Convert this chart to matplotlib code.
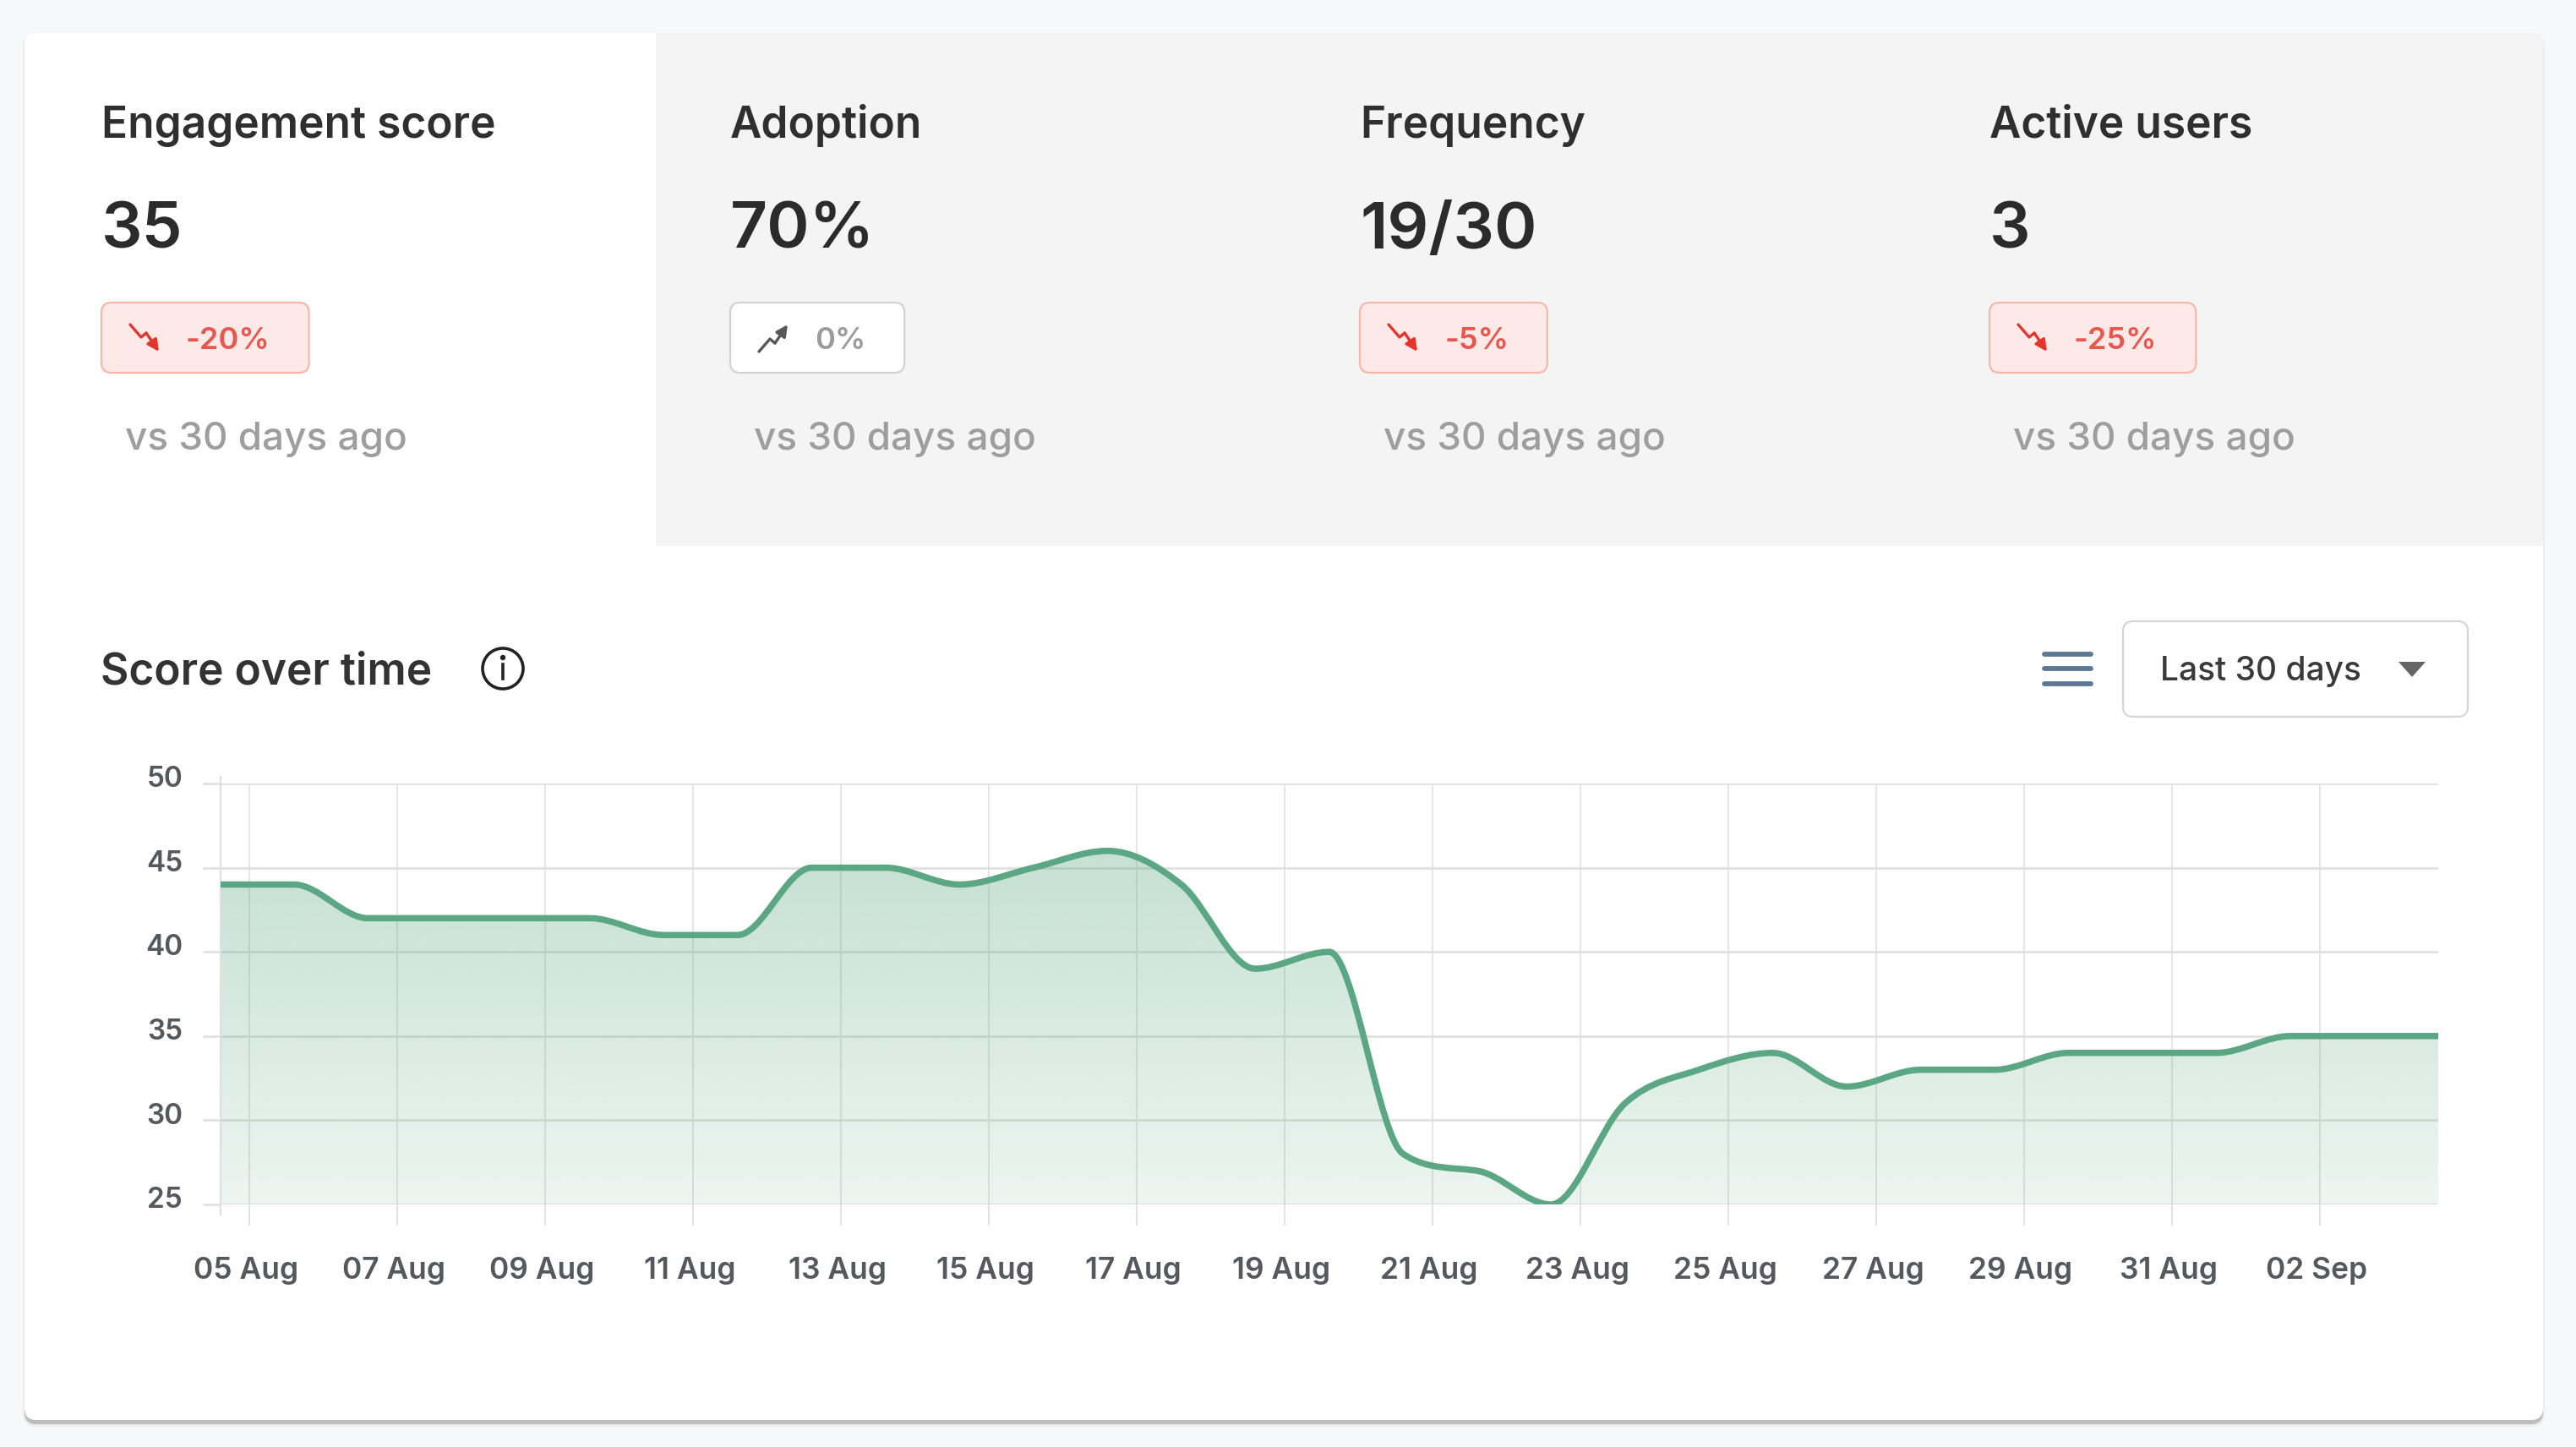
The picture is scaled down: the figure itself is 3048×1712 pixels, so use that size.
import numpy as np
import pandas as pd
import matplotlib
matplotlib.use("Agg")
import matplotlib.pyplot as plt
import matplotlib.dates as mdates
from matplotlib.path import Path
from matplotlib.patches import PathPatch, FancyBboxPatch, Rectangle, Circle, Polygon
from matplotlib.transforms import ScaledTranslation

plt.rcParams['font.family'] = ['Inter', 'DejaVu Sans']

# ---- data ----
kpi_titles = ["Engagement score", "Adoption", "Frequency", "Active users"]
kpi_values = ["35", "70%", "19/30", "3"]
kpi_changes = ["-20%", "0%", "-5%", "-25%"]
kpi_trend = ["down", "flat", "down", "down"]
kpi_caption = "vs 30 days ago"

dates = pd.date_range("2024-08-04 14:24", periods=31, freq="D")
scores = [44, 44, 42, 42, 42, 42, 41, 41, 45, 45, 44, 45, 46, 44, 39, 40,
          28, 27, 25, 31, 33, 34, 32, 33, 33, 34, 34, 34, 35, 35, 35]
tick_dates = pd.date_range("2024-08-05", "2024-09-02", freq="2D")
y_ticks = [25, 30, 35, 40, 45, 50]
chart_title = "Score over time"
range_label = "Last 30 days"

GREEN = '#5ba783'
W, H = 3048, 1712

fig = plt.figure(figsize=(W / 100, H / 100), dpi=100, facecolor='#f7f8fa')
bg = fig.add_axes([0, 0, 1, 1])
bg.set_xlim(0, W)
bg.set_ylim(H, 0)
bg.axis('off')


def base(yc, size):
    # baseline for a text whose cap height is centred on yc
    return yc + 0.505 * size


# card with a soft bottom shadow
bg.add_patch(FancyBboxPatch((27, 40), 2984, 1648, boxstyle="round,pad=0,rounding_size=16",
                            fc='#ececec', ec='none', zorder=0))
bg.add_patch(FancyBboxPatch((29, 42), 2980, 1643, boxstyle="round,pad=0,rounding_size=14",
                            fc='#bdbdbd', ec='none', zorder=0.5))
card = FancyBboxPatch((29, 39), 2980, 1641, boxstyle="round,pad=0,rounding_size=14",
                      fc='white', ec='none', zorder=1)
bg.add_patch(card)
grey = Rectangle((776, 39), 2233, 607, fc='#f4f4f4', ec='none', zorder=1.5)
bg.add_patch(grey)
grey.set_clip_path(card)

# ---- KPI tiles ----
renderer = fig.canvas.get_renderer()
col_x = [120, 864, 1609, 2354]
for i in range(4):
    x0 = col_x[i]
    bg.text(x0, base(144, 37), kpi_titles[i], fontsize=37, fontweight=600,
            color='#2f2f2f', va='baseline', zorder=3)
    bg.text(x0, base(266, 55), kpi_values[i], fontsize=55, fontweight=600,
            color='#2b2b2b', va='baseline', zorder=3)
    down = kpi_trend[i] == "down"
    tc = '#e8574e' if down else '#9b9b9b'
    t = bg.text(x0 + 100, base(400, 26), kpi_changes[i], fontsize=26, fontweight=600,
                color=tc, va='baseline', zorder=4)
    bb = t.get_window_extent(renderer=renderer)
    bw = bb.x1 + 46 - x0
    bg.add_patch(FancyBboxPatch((x0, 358), bw, 83, boxstyle="round,pad=0,rounding_size=12",
                                fc='#fde9e8' if down else '#ffffff',
                                ec='#f6b8a8' if down else '#d2d2d2', lw=1.6, zorder=3))
    cx, cy = x0 + 52, 400
    ic = '#e5342b' if down else '#585858'
    sgn = 1 if down else -1
    px = [cx - 18, cx - 5, cx + 1]
    py = [cy - 16 * sgn, cy - 1 * sgn, cy - 6 * sgn]
    bg.plot(px, py, color=ic, lw=2.4, solid_capstyle='round', zorder=5)
    bg.annotate('', xy=(cx + 16, cy + 16 * sgn), xytext=(px[-1], py[-1]),
                arrowprops=dict(arrowstyle='-|>', color=ic, lw=2.4, mutation_scale=20,
                                shrinkA=0, shrinkB=0), zorder=5)
    bg.text(x0 + 28, base(515, 33), kpi_caption, fontsize=33, fontweight=500,
            color='#9e9e9e', va='baseline', zorder=3)

# ---- chart header ----
bg.text(119, base(791, 37), chart_title, fontsize=37, fontweight=600, color='#333333',
        va='baseline', zorder=3)
bg.add_patch(Circle((595, 791), 24, fc='none', ec='#222222', lw=2.6, zorder=3))
bg.add_patch(Circle((595, 778), 3.2, fc='#222222', ec='none', zorder=3))
bg.plot([595, 595], [786, 803], color='#222222', lw=2.6, zorder=3)

for yy in (774, 791, 809):
    bg.plot([2419, 2474], [yy, yy], color='#5e7894', lw=4.2, solid_capstyle='round', zorder=3)
bg.add_patch(FancyBboxPatch((2512, 735), 408, 113, boxstyle="round,pad=0,rounding_size=12",
                            fc='white', ec='#d6d6d6', lw=1.6, zorder=3))
bg.text(2556, base(791, 28), range_label, fontsize=28, fontweight=500, color='#3a3a3a',
        va='baseline', zorder=4)
bg.add_patch(Polygon([(2838, 783), (2870, 783), (2854, 801)], closed=True,
                     fc='#666666', ec='none', zorder=4))

# ---- line chart ----
L, R, T, B = 260.5, 2885, 927, 1425
ax = fig.add_axes([L / W, (H - B) / H, (R - L) / W, (B - T) / H])
ax.set_facecolor('none')
ax.set_zorder(2)

x = mdates.date2num(dates)
y = np.array(scores, dtype=float)
n = len(x)
d = np.diff(y) / np.diff(x)
m = np.zeros(n)
m[0], m[-1] = d[0], d[-1]
for k in range(1, n - 1):
    if d[k - 1] * d[k] > 0:
        m[k] = (d[k - 1] + d[k]) / 2
for k in range(n - 1):
    if d[k] == 0:
        m[k] = m[k + 1] = 0
        continue
    a, b = m[k] / d[k], m[k + 1] / d[k]
    s = a * a + b * b
    if s > 9:
        tau = 3 / np.sqrt(s)
        m[k], m[k + 1] = tau * a * d[k], tau * b * d[k]

verts = [(x[0], y[0])]
codes = [Path.MOVETO]
for k in range(n - 1):
    h = (x[k + 1] - x[k]) / 3
    verts += [(x[k] + h, y[k] + m[k] * h), (x[k + 1] - h, y[k + 1] - m[k + 1] * h),
              (x[k + 1], y[k + 1])]
    codes += [Path.CURVE4] * 3

fill_path = Path(verts + [(x[-1], 25), (x[0], 25), (x[0], y[0])],
                 codes + [Path.LINETO, Path.LINETO, Path.CLOSEPOLY])
fill_patch = PathPatch(fill_path, fc='none', ec='none')
ax.add_patch(fill_patch)

rgb = matplotlib.colors.to_rgb(GREEN)
grad = np.zeros((256, 1, 4))
grad[..., 0], grad[..., 1], grad[..., 2] = rgb
grad[:, 0, 3] = np.linspace(0.11, 0.40, 256)
im = ax.imshow(grad, extent=[x[0], x[-1], 25, 50], origin='lower', aspect='auto',
               interpolation='bilinear', zorder=1)
im.set_clip_path(fill_patch)

ax.add_patch(PathPatch(Path(verts, codes), fill=False, ec=GREEN, lw=5.4,
                       capstyle='round', joinstyle='round', zorder=4))

ax.set_xlim(x[0], x[-1])
ax.set_ylim(25, 50)
ax.set_yticks(y_ticks)
ax.set_xticks(mdates.date2num(tick_dates))
ax.set_xticklabels([dt.strftime('%d %b') for dt in tick_dates])
ax.set_axisbelow(True)
ax.grid(axis='y', color='#e0e0e0', lw=1.9)
ax.grid(axis='x', color='#e6e6e6', lw=1.5)
for sp in ('top', 'right', 'bottom'):
    ax.spines[sp].set_visible(False)
ax.spines['left'].set_color('#e0e0e0')
ax.spines['left'].set_linewidth(1.6)
ax.spines['left'].set_bounds(24.4, 50.4)
ax.tick_params(axis='x', length=18, width=1.5, color='#e3e3e3', pad=27,
               labelsize=25.5, labelcolor='#55595d')
ax.tick_params(axis='y', length=15, width=1.9, color='#e0e0e0', pad=17,
               labelsize=24, labelcolor='#55595d')
for lbl in ax.get_xticklabels() + ax.get_yticklabels():
    lbl.set_fontweight(600)
for lbl in ax.get_yticklabels():
    lbl.set_transform(lbl.get_transform() + ScaledTranslation(0, 6 / 72, fig.dpi_scale_trans))
for lbl in ax.get_xticklabels():
    lbl.set_transform(lbl.get_transform() + ScaledTranslation(-3 / 72, 0, fig.dpi_scale_trans))

fig.savefig('out.png', dpi=100, facecolor=fig.get_facecolor())
